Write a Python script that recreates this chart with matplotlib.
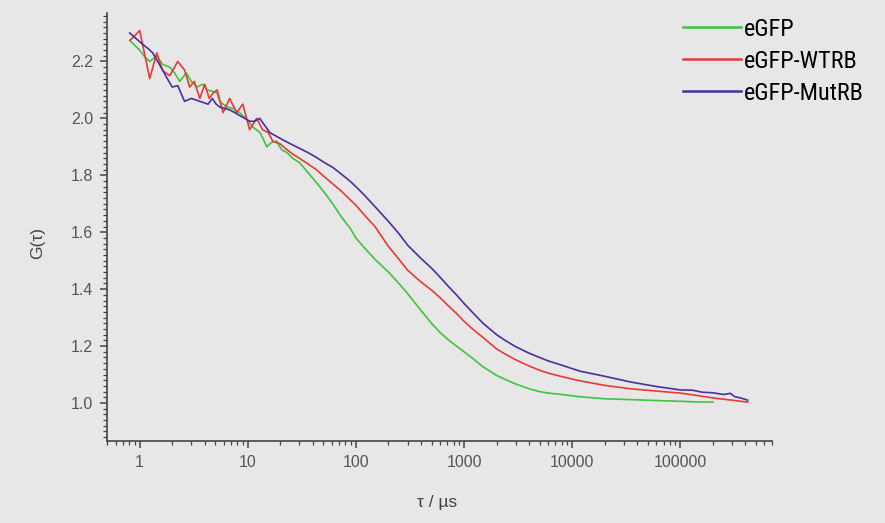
import numpy as np
import matplotlib
matplotlib.use("Agg")
import matplotlib.pyplot as plt
from matplotlib import font_manager as fm
from matplotlib.ticker import FixedLocator, LogLocator, MultipleLocator, NullFormatter, FuncFormatter

# lag times (us) and G(tau)
tau_gfp = [0.83, 1.0, 1.12, 1.24, 1.44, 1.63, 1.9, 2.1, 2.35, 2.7, 3.0, 3.4, 3.8, 4.2, 4.7, 5.2, 5.5,
           6.4, 7.3, 8.4, 9.6, 11.1, 13, 15, 16.5, 18.5, 20.5, 23, 26, 30, 36, 43, 51, 61, 73, 88,
           100, 120, 150, 200, 250, 300, 400, 500, 600, 700, 850, 1000, 1200, 1500, 2000, 2400,
           3000, 4000, 5000, 6000, 8000, 11800, 20000, 35000, 49000, 70000, 100000, 140000, 200000]
g_gfp = [2.27, 2.24, 2.215, 2.20, 2.22, 2.19, 2.18, 2.16, 2.13, 2.16, 2.13, 2.11, 2.12, 2.10, 2.095, 2.09, 2.06,
         2.04, 2.035, 2.02, 2.0, 1.97, 1.95, 1.90, 1.915, 1.92, 1.89, 1.88, 1.86, 1.845, 1.81, 1.775, 1.74, 1.70, 1.655, 1.615,
         1.58, 1.545, 1.505, 1.46, 1.42, 1.385, 1.325, 1.28, 1.248, 1.225, 1.2, 1.18, 1.157, 1.127, 1.097, 1.083,
         1.067, 1.05, 1.04, 1.035, 1.03, 1.022, 1.015, 1.012, 1.01, 1.008, 1.006, 1.004, 1.003]

tau_wt = [0.81, 0.9, 1.0, 1.12, 1.24, 1.44, 1.63, 1.9, 2.25, 2.6, 2.9, 3.2, 3.6, 4.0, 4.4, 4.8, 5.2, 5.9,
          6.8, 7.9, 9.0, 10.4, 12.1, 13.7, 15.5, 17, 20, 23, 26, 30, 36, 43, 51, 61, 73, 88,
          100, 120, 150, 200, 250, 300, 400, 500, 600, 700, 850, 1000, 1200, 1500, 2000, 2400,
          3000, 4000, 5000, 6000, 8000, 11800, 20000, 34600, 60000, 100000, 140000, 200000, 300000, 420000]
g_wt = [2.274, 2.29, 2.309, 2.22, 2.14, 2.23, 2.168, 2.15, 2.20, 2.17, 2.11, 2.13, 2.07, 2.12, 2.07, 2.09, 2.10, 2.02,
        2.07, 2.02, 2.05, 1.96, 2.00, 1.96, 1.95, 1.92, 1.91, 1.89, 1.875, 1.86, 1.84, 1.82, 1.795, 1.77, 1.745, 1.715,
        1.695, 1.66, 1.62, 1.55, 1.505, 1.467, 1.425, 1.397, 1.37, 1.345, 1.315, 1.287, 1.26, 1.23, 1.19, 1.172,
        1.152, 1.13, 1.115, 1.105, 1.093, 1.078, 1.062, 1.05, 1.042, 1.035, 1.027, 1.018, 1.01, 1.003]

tau_mut = [0.81, 0.93, 1.07, 1.2, 1.32, 1.47, 1.63, 1.8, 2.0, 2.25, 2.6, 3.0, 3.3, 3.6, 4.3, 4.7, 5.1, 5.5,
           6.1, 6.8, 7.6, 8.4, 9.4, 10.4, 11.5, 12.9, 16, 21, 25, 30, 36, 43, 51, 61, 73, 88,
           100, 120, 150, 200, 250, 300, 400, 500, 600, 700, 850, 1000, 1200, 1500, 2000, 2400,
           3000, 4000, 5000, 6000, 8000, 11800, 20000, 34600, 60000, 100000, 130000, 160000, 200000, 250000,
           290000, 320000, 360000, 420000]
g_mut = [2.30, 2.28, 2.26, 2.245, 2.23, 2.20, 2.17, 2.14, 2.11, 2.115, 2.06, 2.07, 2.065, 2.06, 2.05, 2.07, 2.05, 2.04,
         2.035, 2.03, 2.02, 2.01, 2.0, 1.99, 1.99, 2.00, 1.95, 1.925, 1.91, 1.895, 1.88, 1.863, 1.845, 1.828, 1.805, 1.78,
         1.76, 1.73, 1.69, 1.638, 1.595, 1.555, 1.508, 1.474, 1.442, 1.414, 1.38, 1.35, 1.318, 1.28, 1.24, 1.22,
         1.198, 1.175, 1.16, 1.148, 1.133, 1.112, 1.094, 1.074, 1.058, 1.046, 1.045, 1.038, 1.036, 1.03,
         1.034, 1.022, 1.018, 1.01]

labels = ["eGFP", "eGFP-WTRB", "eGFP-MutRB"]
colors = ["#3fc43f", "#e83a3a", "#4a2f9c"]

xticks = [1, 10, 100, 1000, 10000, 100000]
yticks = [1.0, 1.2, 1.4, 1.6, 1.8, 2.0, 2.2]


def pick_font(cands, default):
    names = {f.name for f in fm.fontManager.ttflist}
    for c in cands:
        if c in names:
            return c
    return default


base_font = pick_font(["Liberation Sans", "Arial"], "DejaVu Sans")
narrow_font = pick_font(["Liberation Sans Narrow", "Roboto Condensed", "Open Sans Condensed",
                         "Noto Sans Condensed"], None)
plt.rcParams["font.family"] = [base_font, "DejaVu Sans"]

bg = "#e7e7e7"
fig = plt.figure(figsize=(8.85, 5.23), dpi=100, facecolor=bg)
ax = fig.add_axes([0.121, 0.157, 0.751, 0.818], facecolor=bg)

for t, g, lab, c in zip([tau_gfp, tau_wt, tau_mut], [g_gfp, g_wt, g_mut], labels, colors):
    ax.plot(t, g, color=c, lw=1.2, label=lab)

ax.set_xscale("log")
ax.set_xlim(0.5, 7e5)
ax.set_ylim(0.867, 2.37)

ax.xaxis.set_major_locator(FixedLocator(xticks))
ax.xaxis.set_major_formatter(FuncFormatter(lambda v, p: f"{int(v)}"))
ax.xaxis.set_minor_locator(LogLocator(base=10, subs=range(2, 10), numticks=20))
ax.xaxis.set_minor_formatter(NullFormatter())
ax.yaxis.set_major_locator(FixedLocator(yticks))
ax.yaxis.set_major_formatter(FuncFormatter(lambda v, p: f"{v:.1f}"))
ax.yaxis.set_minor_locator(MultipleLocator(0.02))

for s in ["top", "right"]:
    ax.spines[s].set_visible(False)
for s in ["left", "bottom"]:
    ax.spines[s].set_color("#444444")
    ax.spines[s].set_linewidth(1.2)

ax.tick_params(which="major", direction="out", length=5, width=1.1, color="#444444",
               labelsize=11.5, labelcolor="#555555", pad=5)
ax.tick_params(which="minor", direction="out", length=3, width=0.9, color="#444444")

ax.set_xlabel("τ / µs", fontsize=12.5, color="#444444", va="center")
ax.set_ylabel("G(τ)", fontsize=12.5, color="#444444", va="center")
ax.xaxis.set_label_coords(0.496, -0.145)
ax.yaxis.set_label_coords(-0.105, 0.463)

if narrow_font:
    prop = {"family": [narrow_font, "DejaVu Sans"], "size": 17.5}
else:
    prop = {"family": ["DejaVu Sans"], "stretch": "condensed", "size": 16}
leg = fig.legend(loc="upper left", bbox_to_anchor=(683 / 885, 1 - 18 / 523), frameon=False,
                 borderpad=0, borderaxespad=0, handlelength=2.4, handletextpad=0.12,
                 labelspacing=0.37, prop=prop)
for line in leg.get_lines():
    line.set_linewidth(1.8)

fig.savefig("out.png", dpi=100, facecolor=bg)
